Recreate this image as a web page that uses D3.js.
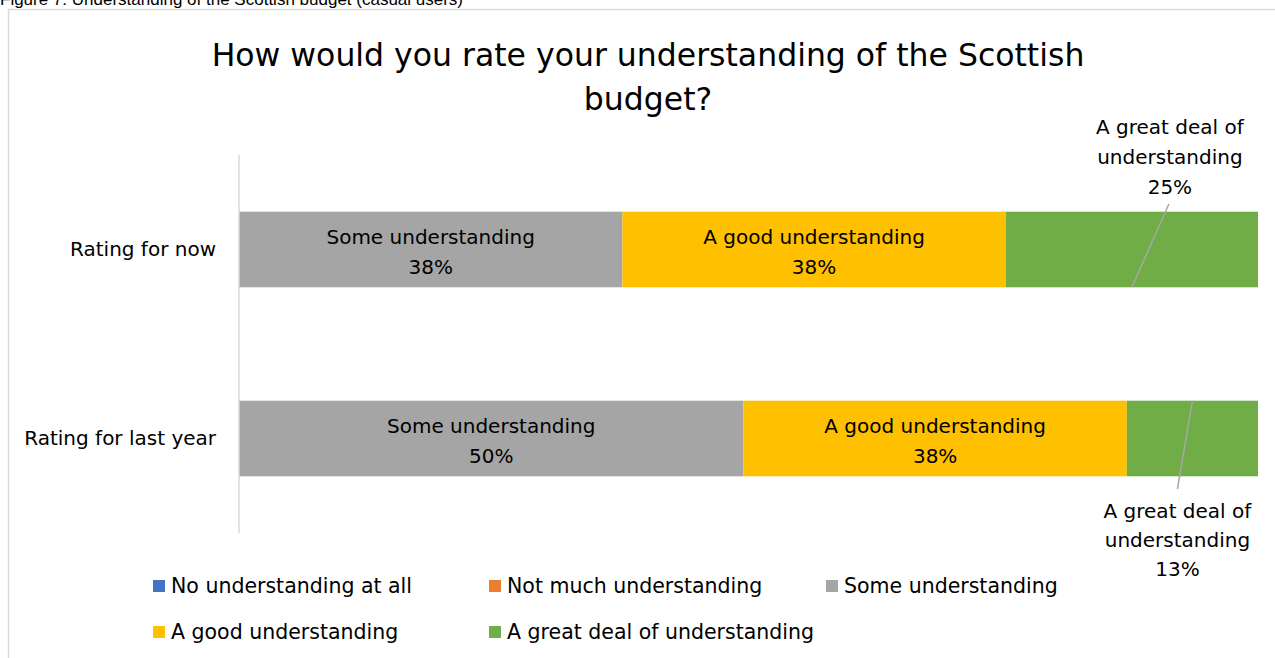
<!DOCTYPE html>
<html>
<head>
<meta charset="utf-8">
<script src="https://cdn.jsdelivr.net/npm/d3@7/dist/d3.min.js"></script>
<style>
  html, body { margin: 0; padding: 0; background: #fff; }
  svg { display: block; }
  text { font-family: "DejaVu Sans", sans-serif; fill: #000; }
</style>
</head>
<body>
<svg id="chart" width="1275" height="658"></svg>
<script>
// Survey responses: rating of understanding of the Scottish budget
const categories = ["Rating for now", "Rating for last year"];
const seriesNames = [
  "No understanding at all",
  "Not much understanding",
  "Some understanding",
  "A good understanding",
  "A great deal of understanding"
];
const noUnderstanding   = [0, 0];
const notMuch           = [0, 0];
const someUnderstanding = [38, 50];
const goodUnderstanding = [38, 38];
const greatDeal         = [25, 13];
const seriesColors = ["#4472C4", "#ED7D31", "#A5A5A5", "#FFC000", "#70AD47"];

const seriesValues = [noUnderstanding, notMuch, someUnderstanding, goodUnderstanding, greatDeal];
const rows = categories.map((c, i) => {
  const r = { category: c };
  seriesNames.forEach((s, k) => { r[s] = seriesValues[k][i]; });
  return r;
});

const svg = d3.select("#chart");

// Figure caption above the chart frame
svg.append("text")
  .attr("x", 0).attr("y", 5)
  .style("font-family", "'Liberation Sans', Arial, sans-serif")
  .style("font-size", "17px")
  .text("Figure 7: Understanding of the Scottish budget (casual users)");

// Chart frame
svg.append("rect")
  .attr("x", 8.5).attr("y", 9.5)
  .attr("width", 1280).attr("height", 660)
  .attr("fill", "none").attr("stroke", "#D9D9D9").attr("stroke-width", 1.5);

// Title
const title = svg.append("text")
  .attr("text-anchor", "middle")
  .style("font-size", "31.5px");
title.append("tspan").attr("x", 648).attr("y", 66).text("How would you rate your understanding of the Scottish");
title.append("tspan").attr("x", 648).attr("y", 110).text("budget?");

// Scales: 100% stacked horizontal bars
const x = d3.scaleLinear().domain([0, 1]).range([239, 1258]);
const y = d3.scaleBand().domain(categories).range([155, 533]).paddingInner(0.6).paddingOuter(0.3);

const stack = d3.stack().keys(seriesNames).offset(d3.stackOffsetExpand);
const stacked = stack(rows);

const layers = svg.append("g").selectAll("g")
  .data(stacked)
  .join("g")
  .attr("fill", (d, i) => seriesColors[i]);

layers.selectAll("rect")
  .data(d => d.map(p => ({ p, key: d.key })))
  .join("rect")
  .attr("x", d => x(d.p[0]))
  .attr("y", d => y(d.p.data.category))
  .attr("width", d => x(d.p[1]) - x(d.p[0]))
  .attr("height", y.bandwidth());

// Category axis: vertical line and labels
svg.append("line")
  .attr("x1", 239).attr("x2", 239)
  .attr("y1", 155).attr("y2", 533)
  .attr("stroke", "#D9D9D9").attr("stroke-width", 1.5);

const yAxis = d3.axisLeft(y).tickSize(0).tickPadding(23);
const yg = svg.append("g").attr("transform", "translate(239,0)").call(yAxis);
yg.select(".domain").remove();
yg.selectAll("text").style("font-size", "20px").style("font-family", "'DejaVu Sans', sans-serif").attr("fill", "#000");

// Data labels inside the grey and yellow segments
const labelG = svg.append("g").attr("text-anchor", "middle").style("font-size", "20px");
stacked.forEach((layer, k) => {
  if (k !== 2 && k !== 3) return;
  layer.forEach(p => {
    const cx = (x(p[0]) + x(p[1])) / 2;
    const cy = y(p.data.category) + y.bandwidth() / 2;
    const t = labelG.append("text");
    t.append("tspan").attr("x", cx).attr("y", cy - 6).text(layer.key);
    t.append("tspan").attr("x", cx).attr("y", cy + 24).text(seriesValues[k][p.data.category === categories[0] ? 0 : 1] + "%");
  });
});

// Callout labels for the green segments, with leader lines
const greatLayer = stacked[4];
const callouts = [
  { dx: 38, edge: "top", lines: [134, 164, 194], lineEndY: 204 },
  { dx: -15, edge: "bottom", lines: [518, 547, 576], lineEndY: 489 }
];
greatLayer.forEach((p, i) => {
  const c = callouts[i];
  const cx = (x(p[0]) + x(p[1])) / 2;
  const top = y(p.data.category);
  const edgeY = c.edge === "top" ? top + y.bandwidth() : top;
  const lx = cx + c.dx;
  svg.append("line")
    .attr("x1", cx).attr("y1", edgeY)
    .attr("x2", lx + (c.edge === "top" ? -1 : 0)).attr("y2", c.lineEndY)
    .attr("stroke", "#A6A6A6").attr("stroke-width", 1.5);
  const t = labelG.append("text");
  t.append("tspan").attr("x", lx).attr("y", c.lines[0]).text("A great deal of");
  t.append("tspan").attr("x", lx).attr("y", c.lines[1]).text("understanding");
  t.append("tspan").attr("x", lx).attr("y", c.lines[2]).text(greatDeal[i] + "%");
});

// Legend
const legendPos = [[153, 586], [489, 586], [826, 586], [153, 632], [489, 632]];
const legend = svg.append("g").style("font-size", "20.5px");
seriesNames.forEach((s, k) => {
  const [lx, ly] = legendPos[k];
  legend.append("rect")
    .attr("x", lx).attr("y", ly - 6)
    .attr("width", 12).attr("height", 12)
    .attr("fill", seriesColors[k]);
  legend.append("text")
    .attr("x", lx + 18).attr("y", ly + 7)
    .text(s);
});
</script>
</body>
</html>
